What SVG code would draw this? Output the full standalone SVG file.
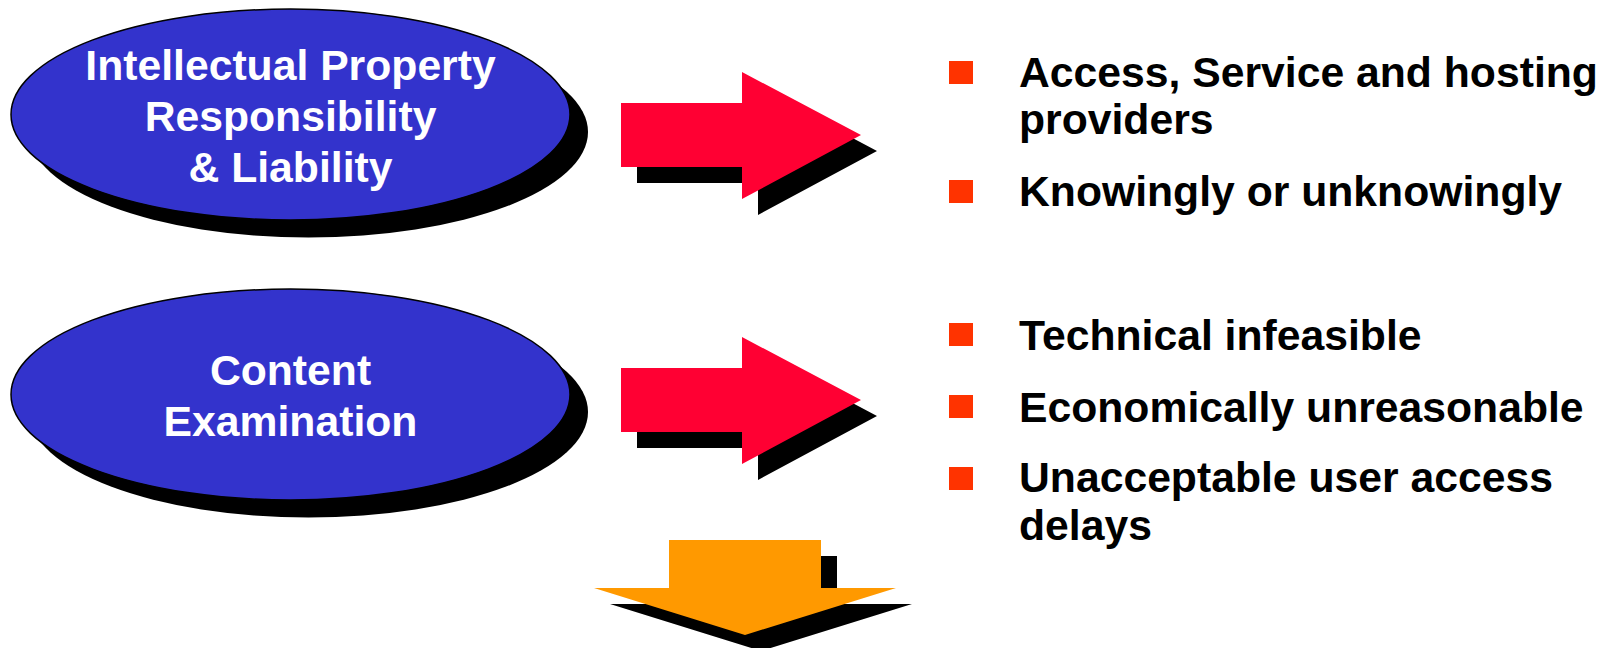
<svg xmlns="http://www.w3.org/2000/svg" width="1603" height="648" viewBox="0 0 1603 648">
<style>
.bg{fill:#ffffff}
.shadow{fill:#000000}
.oval{fill:#3333CC;stroke:#000000;stroke-width:1.5}
.otext{font-family:"Liberation Sans",Arial,sans-serif;font-weight:bold;font-size:42.7px;fill:#ffffff;text-anchor:middle}
.red{fill:#FF0033}
.orange{fill:#FF9900}
.bullet{fill:#FF3300}
.btext{font-family:"Liberation Sans",Arial,sans-serif;font-weight:bold;font-size:42.7px;fill:#000000}
</style>
<defs>
<polygon id="rarrow" points="621,103 742,103 742,72 861,135 742,199 742,167 621,167"/>
<polygon id="darrow" points="669,540 821,540 821,588 896,588 745,635 594,588 669,588"/>
</defs>
<rect class="bg" x="0" y="0" width="1603" height="648"/>
<g id="node-ip">
<ellipse class="shadow" cx="308.5" cy="132" rx="279.5" ry="105.5"/>
<ellipse class="oval" cx="290.5" cy="114.5" rx="279.5" ry="105.5"/>
<text class="otext" x="290.5" y="80">Intellectual Property</text>
<text class="otext" x="290.5" y="131">Responsibility</text>
<text class="otext" x="290.5" y="182">&amp; Liability</text>
</g>
<g id="node-content">
<ellipse class="shadow" cx="308.5" cy="412" rx="279.5" ry="105.5"/>
<ellipse class="oval" cx="290.5" cy="394.5" rx="279.5" ry="105.5"/>
<text class="otext" x="290.5" y="385">Content</text>
<text class="otext" x="290.5" y="436">Examination</text>
</g>
<g id="connectors">
<g id="arrow-1">
<use href="#rarrow" class="shadow" transform="translate(16,16)"/>
<use href="#rarrow" class="red"/>
</g>
<g id="arrow-2">
<use href="#rarrow" class="shadow" transform="translate(16,281)"/>
<use href="#rarrow" class="red" transform="translate(0,265)"/>
</g>
<g id="arrow-down">
<use href="#darrow" class="shadow" transform="translate(16,16)"/>
<use href="#darrow" class="orange"/>
</g>
</g>
<g id="list-1">
<rect class="bullet" x="949" y="61" width="24" height="23"/>
<text class="btext" x="1019" y="87">Access, Service and hosting</text>
<text class="btext" x="1019" y="134">providers</text>
<rect class="bullet" x="949" y="180" width="24" height="23"/>
<text class="btext" x="1019" y="206">Knowingly or unknowingly</text>
</g>
<g id="list-2">
<rect class="bullet" x="949" y="323" width="24" height="23"/>
<text class="btext" x="1019" y="350">Technical infeasible</text>
<rect class="bullet" x="949" y="395" width="24" height="23"/>
<text class="btext" x="1019" y="422">Economically unreasonable</text>
<rect class="bullet" x="949" y="467" width="24" height="23"/>
<text class="btext" x="1019" y="492">Unacceptable user access</text>
<text class="btext" x="1019" y="540">delays</text>
</g>
</svg>
